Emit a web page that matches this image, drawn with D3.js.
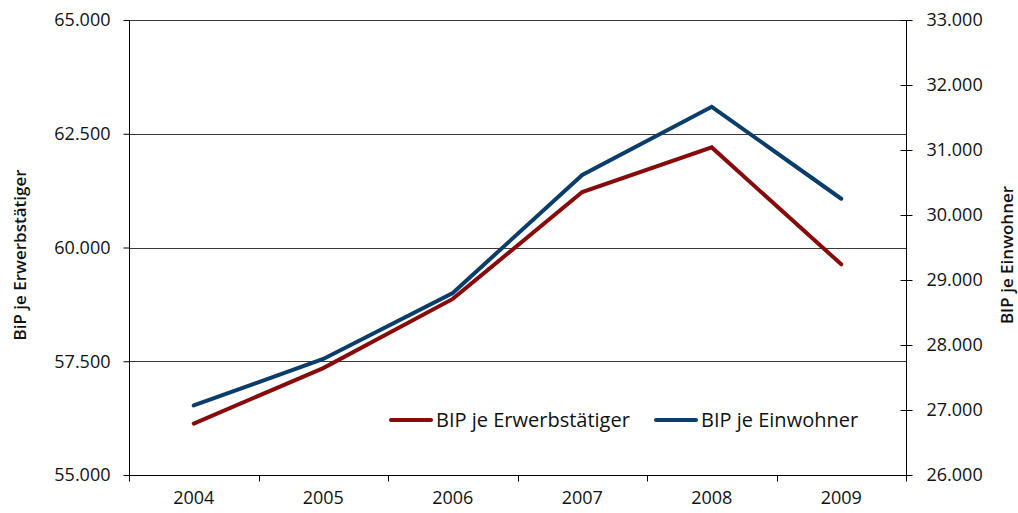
<!DOCTYPE html>
<html><head><meta charset="utf-8">
<script src="https://cdn.jsdelivr.net/npm/d3@7"></script>
<style>
body{margin:0;background:#fff;}
svg{display:block;font-family:"Open Sans",sans-serif;}
</style></head>
<body><svg id="c" width="1018" height="513"></svg>
<script>
const years = ["2004","2005","2006","2007","2008","2009"];
const bipErwerbstaetiger = [56130, 57350, 58870, 61220, 62200, 59630];
const bipEinwohner = [27070, 27785, 28800, 30615, 31665, 30250];
const leftTicks = [55000, 57500, 60000, 62500, 65000];
const rightTicks = [26000, 27000, 28000, 29000, 30000, 31000, 32000, 33000];
const seriesNames = ["BIP je Erwerbstätiger", "BIP je Einwohner"];
const colors = ["#870b0b", "#0a3d6b"];

const svg = d3.select("#c");
const L = 129, R = 906, T = 20, B = 475;
const fmt = v => d3.format(",")(v).replace(/,/g, ".");

const x = d3.scaleBand().domain(years).range([L, R]).padding(0);
const yL = d3.scaleLinear().domain([55000, 65000]).range([B, T]);
const yR = d3.scaleLinear().domain([26000, 33000]).range([B, T]);

// gridlines
svg.append("g").selectAll("line").data(leftTicks).join("line")
  .attr("x1", L).attr("x2", R)
  .attr("y1", d => Math.round(yL(d)) + 0.5).attr("y2", d => Math.round(yL(d)) + 0.5)
  .attr("stroke", "#3a3a3a").attr("stroke-width", 1);

// left axis
const gL = svg.append("g").attr("transform", `translate(${L + 0.5},0)`)
  .call(d3.axisLeft(yL).tickValues(leftTicks).tickFormat(fmt).tickSize(6).tickPadding(13));
// right axis
const gR = svg.append("g").attr("transform", `translate(${R + 0.5},0)`)
  .call(d3.axisRight(yR).tickValues(rightTicks).tickFormat(fmt).tickSize(6).tickPadding(14));
gR.selectAll(".tick line").attr("x1", -6);
// bottom axis
const gB = svg.append("g").attr("transform", `translate(0,${B + 0.5})`)
  .call(d3.axisBottom(x).tickSize(0).tickPadding(16));
gB.append("g").selectAll("line").data(years.concat(["end"])).join("line")
  .attr("x1", (d, i) => Math.round(L + i * x.bandwidth()) + 0.5)
  .attr("x2", (d, i) => Math.round(L + i * x.bandwidth()) + 0.5)
  .attr("y1", 0).attr("y2", 6).attr("stroke", "#000");

[gL, gR, gB].forEach(g => {
  g.selectAll(".domain").attr("stroke", "#000");
  g.selectAll(".tick line").attr("stroke", "#000");
  g.selectAll("text").attr("font-size", 18).attr("fill", "#111").attr("font-family", "Open Sans, sans-serif");
});
gL.select(".domain").attr("d", `M0,${T}V${B}`);
gR.select(".domain").attr("d", `M0,${T}V${B}`);
gB.select(".domain").attr("d", `M${L},0H${R}`);

// lines
const cx = d => x(d) + x.bandwidth() / 2;
const lineL = d3.line().x((d, i) => cx(years[i])).y(d => yL(d));
const lineR = d3.line().x((d, i) => cx(years[i])).y(d => yR(d));
svg.append("path").attr("d", lineL(bipErwerbstaetiger)).attr("fill", "none")
  .attr("stroke", colors[0]).attr("stroke-width", 4).attr("stroke-linecap", "round").attr("stroke-linejoin", "miter");
svg.append("path").attr("d", lineR(bipEinwohner)).attr("fill", "none")
  .attr("stroke", colors[1]).attr("stroke-width", 4).attr("stroke-linecap", "round").attr("stroke-linejoin", "miter");

// legend
const legend = [{x: 389, name: seriesNames[0], c: colors[0]}, {x: 654, name: seriesNames[1], c: colors[1]}];
legend.forEach(l => {
  svg.append("line").attr("x1", l.x + 2).attr("x2", l.x + 42).attr("y1", 420).attr("y2", 420)
    .attr("stroke", l.c).attr("stroke-width", 4).attr("stroke-linecap", "round");
  svg.append("text").attr("x", l.x + 47).attr("y", 420).attr("dy", "0.35em")
    .attr("font-size", 20).attr("fill", "#111").text(l.name);
});

// axis titles
svg.append("text").attr("transform", "translate(26,255) rotate(-90)")
  .attr("text-anchor", "middle").attr("font-size", 17).attr("font-weight", 600).attr("fill", "#111")
  .text("BiP je Erwerbstätiger");
svg.append("text").attr("transform", "translate(1013,255) rotate(-90)")
  .attr("text-anchor", "middle").attr("font-size", 17).attr("font-weight", 600).attr("fill", "#111")
  .text("BIP je Einwohner");
</script></body></html>
